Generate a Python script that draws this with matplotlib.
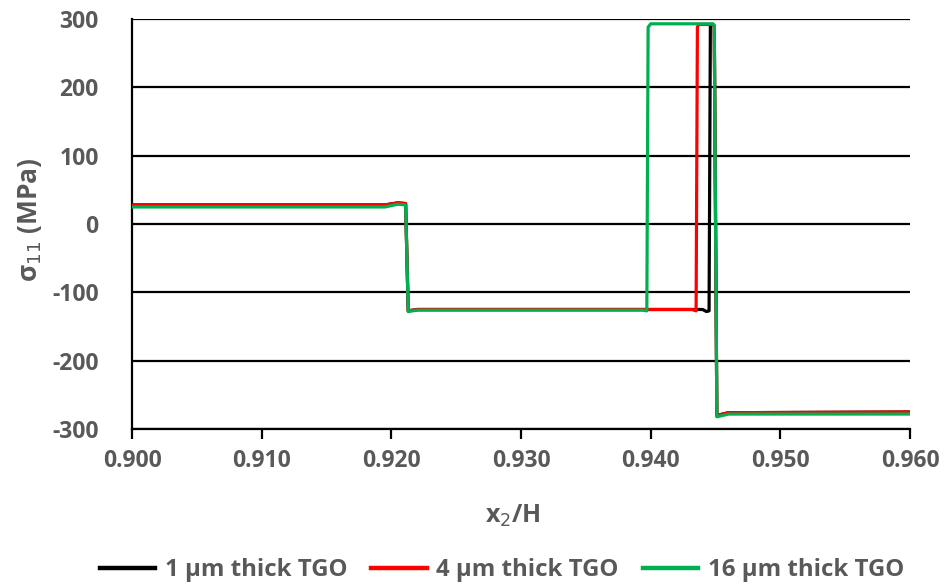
import matplotlib
matplotlib.use("Agg")
import matplotlib.pyplot as plt

# Data
x_1um = [0.900, 0.9195, 0.9205, 0.9211, 0.9213, 0.9220, 0.9440, 0.9443, 0.9445, 0.9446, 0.9447, 0.9448, 0.9449, 0.9451, 0.9460, 0.960]
y_1um = [28, 28, 31, 30, -127, -125, -125, -128, -127, 290, 292, 292, 290, -280, -276, -275]

x_4um = [0.900, 0.9195, 0.9205, 0.9211, 0.9213, 0.9220, 0.9432, 0.9435, 0.9436, 0.9437, 0.9448, 0.9449, 0.9451, 0.9460, 0.960]
y_4um = [28, 28, 31, 30, -127, -125, -125, -127, 288, 292, 292, 290, -280, -276, -275]

x_16um = [0.900, 0.9195, 0.9205, 0.9211, 0.9213, 0.9220, 0.9394, 0.9397, 0.9398, 0.9400, 0.9448, 0.9449, 0.9451, 0.9460, 0.960]
y_16um = [25, 25, 29, 28, -128, -126, -126, -127, 288, 293, 293, 290, -282, -278, -278]

series_labels = ["1 µm thick TGO", "4 µm thick TGO", "16 µm thick TGO"]
series_colors = ["#000000", "#FF0000", "#00B050"]

x_ticks = [0.900, 0.910, 0.920, 0.930, 0.940, 0.950, 0.960]
y_ticks = [-300, -200, -100, 0, 100, 200, 300]

grey = "#595959"
plt.rcParams['font.family'] = ['Open Sans', 'DejaVu Sans']

fig = plt.figure(figsize=(9.47, 5.87), dpi=100)
ax = fig.add_axes([0.1394, 0.269, 0.961 - 0.1394, 0.9676 - 0.269])

for xs, ys, lab, col in zip([x_1um, x_4um, x_16um], [y_1um, y_4um, y_16um], series_labels, series_colors):
    ax.plot(xs, ys, color=col, lw=2.3, label=lab, solid_joinstyle='round', zorder=3)

ax.set_xlim(0.900, 0.960)
ax.set_ylim(-300, 300)
ax.set_xticks(x_ticks)
ax.set_xticklabels([f"{v:.3f}" for v in x_ticks])
ax.set_yticks(y_ticks)
ax.set_yticklabels([str(v) for v in y_ticks])

ax.grid(axis='y', color='black', lw=1.6, zorder=1)
for s in ['right', 'top']:
    ax.spines[s].set_visible(False)
for s in ['bottom', 'left']:
    ax.spines[s].set_color('black')
    ax.spines[s].set_linewidth(1.6)
ax.tick_params(axis='x', direction='out', length=7, width=1.6, color='black', labelsize=16.5, labelcolor=grey, pad=7)
ax.tick_params(axis='y', length=0, labelsize=16.5, labelcolor=grey, pad=24)
for lbl in ax.get_xticklabels() + ax.get_yticklabels():
    lbl.set_fontweight('bold')

ax.set_xlabel("x$_2$/H", fontsize=18, fontweight='bold', color=grey)
ax.set_ylabel("σ$_{11}$ (MPa)", fontsize=19, fontweight='bold', color=grey)
ax.xaxis.set_label_coords(0.49, -0.18)
ax.yaxis.set_label_coords(-0.113, 0.51)

leg = fig.legend(loc='center', bbox_to_anchor=(0.53, 0.029), ncol=3, frameon=False,
                 fontsize=17.3, handlelength=2.3, handletextpad=0.4, columnspacing=1.0)
for t in leg.get_texts():
    t.set_color(grey)
    t.set_fontweight('bold')
for h in leg.get_lines():
    h.set_linewidth(3.2)

fig.savefig("out.png", dpi=100)
